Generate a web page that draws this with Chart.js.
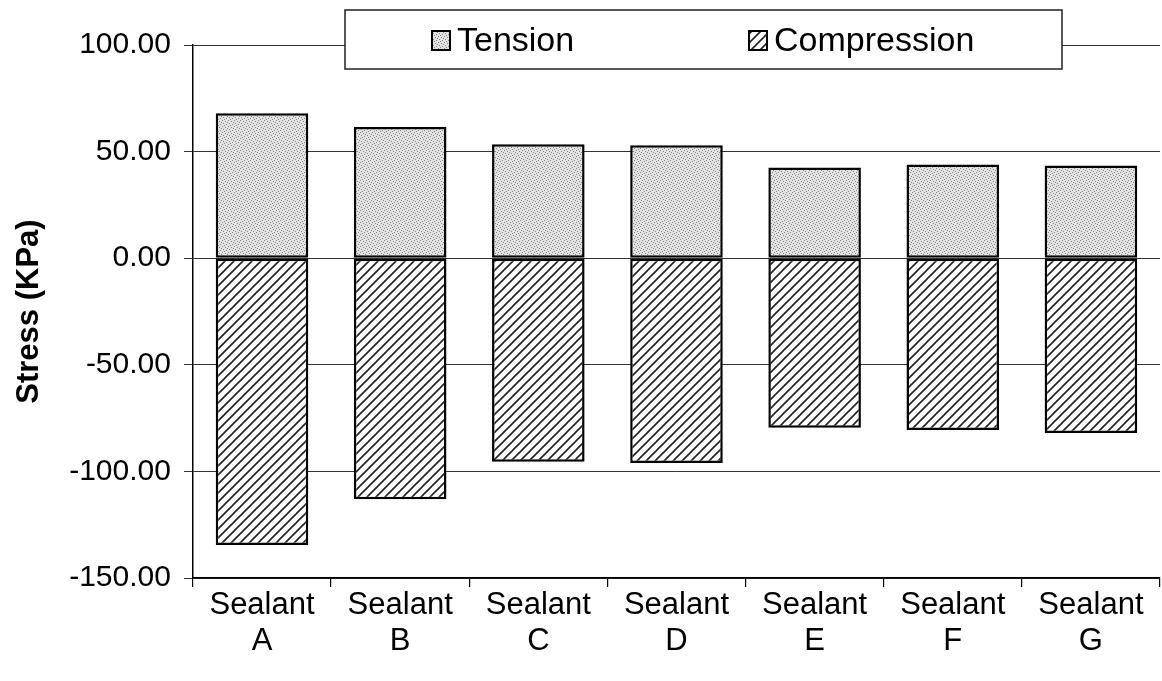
<!DOCTYPE html>
<html>
<head>
<meta charset="utf-8">
<script src="https://cdn.jsdelivr.net/npm/chart.js@4.4.0/dist/chart.umd.min.js"></script>
<style>
  html, body { margin: 0; padding: 0; background: #fff; }
  #wrap { width: 1162px; height: 681px; }
</style>
</head>
<body>
<div id="wrap"><canvas id="grafico"></canvas></div>
<script>
// datos
const sealants = [["Sealant", "A"], ["Sealant", "B"], ["Sealant", "C"], ["Sealant", "D"], ["Sealant", "E"], ["Sealant", "F"], ["Sealant", "G"]];
const tension = [68.0, 61.5, 53.5, 53.0, 42.5, 44.0, 43.5];
const compression = [-134.5, -113.0, -95.5, -96.0, -79.5, -80.5, -82.0];
const yTicks = [-150, -100, -50, 0, 50, 100];

// texturas
function dotPattern() {
	const c = document.createElement('canvas');
	c.width = 6; c.height = 6;
	const g = c.getContext('2d');
	g.fillStyle = '#e2e2e2';
	g.fillRect(0, 0, 6, 6);
	g.fillStyle = '#8a8a8a';
	[[0,0],[3,1],[1,3],[4,4],[2,5],[5,2]].forEach(p => g.fillRect(p[0], p[1], 1, 1));
	return g.createPattern(c, 'repeat');
}
function hatchPattern() {
	const s = 9;
	const c = document.createElement('canvas');
	c.width = s; c.height = s;
	const g = c.getContext('2d');
	g.fillStyle = '#fff';
	g.fillRect(0, 0, s, s);
	g.strokeStyle = '#222';
	g.lineWidth = 1.6;
	g.beginPath();
	g.moveTo(-1, s + 1); g.lineTo(s + 1, -1);
	g.moveTo(-1, 1); g.lineTo(1, -1);
	g.moveTo(s - 1, s + 1); g.lineTo(s + 1, s - 1);
	g.stroke();
	return g.createPattern(c, 'repeat');
}

const dots = dotPattern();
const hatch = hatchPattern();
const fuente = "Arial, 'Liberation Sans', sans-serif";

// leyenda con caja encima del area
const cajaLeyenda = {
	id: 'cajaLeyenda',
	afterDraw(chart) {
		const ctx = chart.ctx;
		const x = 345, y = 10, w = 717, h = 59;
		ctx.save();
		ctx.fillStyle = '#fff';
		ctx.fillRect(x, y, w, h);
		ctx.strokeStyle = '#222';
		ctx.lineWidth = 1.5;
		ctx.strokeRect(x, y, w, h);
		ctx.font = '34px ' + fuente;
		ctx.textBaseline = 'middle';
		const items = [{ x: 432, fill: dots }, { x: 749, fill: hatch }];
		chart.data.datasets.forEach((ds, i) => {
			const it = items[i];
			ctx.fillStyle = it.fill;
			ctx.fillRect(it.x, 31, 18, 19);
			ctx.strokeStyle = '#000';
			ctx.lineWidth = 2;
			ctx.strokeRect(it.x, 31, 18, 19);
			ctx.fillStyle = '#000';
			ctx.fillText(ds.label, it.x + 25, 42);
		});
		ctx.restore();
	}
};

const config = {
	type: 'bar',
	data: {
		labels: sealants,
		datasets: [{
			label: 'Tension',
			data: tension,
			backgroundColor: dots,
			borderColor: '#000',
			borderWidth: 2.5,
			borderSkipped: false,
			categoryPercentage: 1,
			barPercentage: 0.67
		}, {
			label: 'Compression',
			data: compression,
			backgroundColor: hatch,
			borderColor: '#000',
			borderWidth: 2.5,
			borderSkipped: false,
			categoryPercentage: 1,
			barPercentage: 0.67
		}]
	},
	options: {
		responsive: true,
		maintainAspectRatio: false,
		animation: false,
		layout: { padding: { top: 45, right: 2, left: 11, bottom: 22 } },
		plugins: {
			legend: { display: false },
			tooltip: { enabled: false }
		},
		scales: {
			x: {
				stacked: true,
				offset: true,
				grid: {
					offset: true,
					drawOnChartArea: false,
					drawTicks: true,
					tickLength: 9,
					color: '#000',
					lineWidth: 1.2
				},
				border: { color: '#000', width: 1.5 },
				ticks: {
					color: '#000',
					font: { family: fuente, size: 31, lineHeight: 1.16 },
					padding: 0,
					maxRotation: 0,
					autoSkip: false
				}
			},
			y: {
				stacked: true,
				min: -150,
				max: 100,
				afterBuildTicks(axis) { axis.ticks = yTicks.map(v => ({ value: v })); },
				grid: {
					color: '#333',
					lineWidth: 1,
					tickLength: 9
				},
				border: { color: '#000', width: 1.5 },
				ticks: {
					color: '#000',
					font: { family: fuente, size: 30 },
					padding: 13,
					callback: v => v.toFixed(2)
				},
				title: {
					display: true,
					text: 'Stress (KPa)',
					color: '#000',
					font: { family: fuente, size: 31, weight: 'bold' },
					padding: { top: 0, bottom: 8 }
				}
			}
		}
	},
	plugins: [cajaLeyenda]
};

new Chart(document.getElementById('grafico'), config);
</script>
</body>
</html>
